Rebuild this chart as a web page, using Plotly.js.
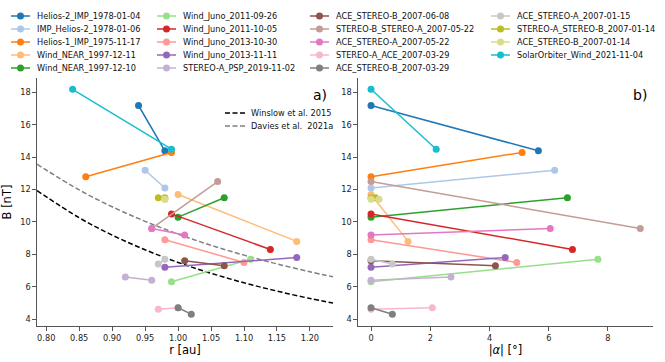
<!DOCTYPE html>
<html>
<head>
<meta charset="utf-8">
<script src="https://cdn.plot.ly/plotly-3.0.1.min.js"></script>
<style>
  body { margin: 0; background: #fff; }
  #chart { width: 665px; height: 362px; }
</style>
</head>
<body>
<div id="chart"></div>
<script>
// event names, in legend order
var labels = [
  "Helios-2_IMP_1978-01-04", "IMP_Helios-2_1978-01-06", "Helios-1_IMP_1975-11-17",
  "Wind_NEAR_1997-12-11", "Wind_NEAR_1997-12-10", "Wind_Juno_2011-09-26",
  "Wind_Juno_2011-10-05", "Wind_Juno_2013-10-30", "Wind_Juno_2013-11-11",
  "STEREO-A_PSP_2019-11-02", "ACE_STEREO-B_2007-06-08", "STEREO-B_STEREO-A_2007-05-22",
  "ACE_STEREO-A_2007-05-22", "STEREO-A_ACE_2007-03-29", "ACE_STEREO-B_2007-03-29",
  "ACE_STEREO-A_2007-01-15", "STEREO-A_STEREO-B_2007-01-14", "ACE_STEREO-B_2007-01-14",
  "SolarOrbiter_Wind_2021-11-04"
];

var colors = [
  "#1f77b4", "#aec7e8", "#ff7f0e", "#ffbb78", "#2ca02c", "#98df8a", "#d62728",
  "#ff9896", "#9467bd", "#c5b0d5", "#8c564b", "#c49c94", "#e377c2", "#f7b6d2",
  "#7f7f7f", "#c7c7c7", "#bcbd22", "#dbdb8d", "#17becf"
];

// heliocentric distance of both spacecraft [au]
var rPairs = [
  [0.94, 0.98], [0.95, 0.98], [0.86, 0.99], [1.00, 1.18], [1.00, 1.07],
  [0.99, 1.11], [0.99, 1.14], [0.98, 1.10], [0.98, 1.18], [0.96, 0.92],
  [1.01, 1.07], [1.06, 0.96], [1.01, 0.96], [0.97, 1.00], [1.00, 1.02],
  [0.98, 0.97], [0.97, 0.98], [0.98, 0.98], [0.84, 0.99]
];

// mean field of both spacecraft [nT]
var bPairs = [
  [17.2, 14.4], [13.2, 12.1], [12.8, 14.3], [11.7, 8.8], [10.3, 11.5],
  [6.3, 7.7], [10.5, 8.3], [8.9, 7.5], [7.2, 7.8], [6.4, 6.6],
  [7.6, 7.3], [12.5, 9.6], [9.2, 9.6], [4.6, 4.7], [4.7, 4.3],
  [7.7, 7.4], [11.5, 11.5], [11.4, 11.4], [18.2, 14.5]
];

// angular separation |alpha| [deg]
var alphaPairs = [
  [0, 5.65], [6.2, 0], [0, 5.1], [0, 1.25], [0, 6.63],
  [0, 7.66], [0, 6.8], [0, 4.92], [0, 4.53], [0, 2.7],
  [0, 4.2], [0, 9.09], [0, 6.05], [0, 2.07], [0, 0.72],
  [0, 0.72], [0, 0.15], [0, 0.27], [0, 2.2]
];

// model curves
var curveR = [0.786, 0.85, 0.90, 0.95, 1.00, 1.05, 1.10, 1.15, 1.20, 1.235];
var winslowB = [11.94, 10.26, 9.19, 8.28, 7.5, 6.83, 6.24, 5.73, 5.27, 4.99];
var daviesB = [13.57, 11.98, 10.94, 10.04, 9.25, 8.56, 7.95, 7.41, 6.92, 6.61];

var rTicks = [0.80, 0.85, 0.90, 0.95, 1.00, 1.05, 1.10, 1.15, 1.20];
var bTicks = [4, 6, 8, 10, 12, 14, 16, 18];
var alphaTicks = [0, 2, 4, 6, 8];

var W = 665, H = 362;
var font = "DejaVu Sans, sans-serif";
function px(x) { return x / W; }
function py(y) { return 1 - y / H; }

var data = [];
data.push({x: curveR, y: winslowB, mode: "lines", line: {color: "#000", width: 1.5, dash: "5px,2.5px", shape: "spline"}, xaxis: "x", yaxis: "y"});
data.push({x: curveR, y: daviesB, mode: "lines", line: {color: "#808080", width: 1.5, dash: "5px,2.5px", shape: "spline"}, xaxis: "x", yaxis: "y"});

for (var i = 0; i < labels.length; i++) {
  var st = {
    mode: "lines+markers",
    line: {color: colors[i], width: 1.5},
    marker: {color: colors[i], size: 7}
  };
  data.push(Object.assign({x: rPairs[i], y: bPairs[i], xaxis: "x", yaxis: "y", name: labels[i]}, st));
  data.push(Object.assign({x: alphaPairs[i], y: bPairs[i], xaxis: "x2", yaxis: "y2", name: labels[i]}, st));
}

// legend drawn by hand (matplotlib-like compact rows)
var shapes = [], annotations = [];
var colLine = [11, 157, 310, 491];
var rowY = [16, 29, 42, 55, 68];
for (var k = 0; k < labels.length; k++) {
  var c = Math.floor(k / 5), r = k % 5;
  var x0 = colLine[c], yy = rowY[r];
  shapes.push({type: "line", xref: "paper", yref: "paper", x0: px(x0), x1: px(x0 + 19), y0: py(yy), y1: py(yy),
    line: {color: colors[k], width: 1.5}});
  shapes.push({type: "circle", xref: "paper", yref: "paper", xsizemode: "pixel", ysizemode: "pixel",
    xanchor: px(x0 + 9.5), yanchor: py(yy), x0: -3.5, x1: 3.5, y0: -3.5, y1: 3.5,
    fillcolor: colors[k], line: {width: 0}});
  annotations.push({text: labels[k], xref: "paper", yref: "paper", x: px(x0 + 24), y: py(yy),
    xanchor: "left", yanchor: "middle", showarrow: false, font: {family: font, size: 8.2, color: "#111"}});
}

// inner legend for the model curves
var curveNames = ["Winslow et al. 2015", "Davies et al.&nbsp; 2021a"];
var curveColors = ["#000", "#808080"];
var curveRowY = [113, 126];
for (var j = 0; j < 2; j++) {
  shapes.push({type: "line", xref: "paper", yref: "paper", x0: px(225), x1: px(245), y0: py(curveRowY[j]), y1: py(curveRowY[j]),
    line: {color: curveColors[j], width: 1.5, dash: "5px,2.5px"}});
  annotations.push({text: curveNames[j], xref: "paper", yref: "paper", x: px(249), y: py(curveRowY[j]),
    xanchor: "left", yanchor: "middle", showarrow: false, font: {family: font, size: 8.2, color: "#111"}});
}

annotations.push({text: "a)", xref: "paper", yref: "paper", x: px(320), y: py(95), xanchor: "center", yanchor: "middle",
  showarrow: false, font: {family: font, size: 14, color: "#000"}});
annotations.push({text: "b)", xref: "paper", yref: "paper", x: px(640), y: py(95), xanchor: "center", yanchor: "middle",
  showarrow: false, font: {family: font, size: 14, color: "#000"}});

var axisBase = {
  showgrid: false, zeroline: false, showline: true, linecolor: "#555", linewidth: 1.2,
  ticks: "outside", ticklen: 3.5, tickwidth: 1, tickcolor: "#555",
  tickfont: {family: font, size: 8.2, color: "#222"}, automargin: false
};

var ydom = [py(326), py(78)];

var layout = {
  width: W, height: H,
  margin: {l: 0, r: 0, t: 0, b: 0},
  showlegend: false,
  paper_bgcolor: "#fff", plot_bgcolor: "#fff",
  font: {family: font},
  xaxis: Object.assign({}, axisBase, {domain: [px(37), px(333)], range: [0.786, 1.235], tickvals: rTicks, tickformat: ".2f",
    anchor: "y", title: {text: "r [au]", font: {family: font, size: 11.5, color: "#000"}, standoff: 4}}),
  yaxis: Object.assign({}, axisBase, {domain: ydom, range: [3.57, 18.9], tickvals: bTicks, anchor: "x",
    title: {text: "B [nT]", font: {family: font, size: 11.5, color: "#000"}, standoff: 6}}),
  xaxis2: Object.assign({}, axisBase, {domain: [px(358), px(653)], range: [-0.44, 9.52], tickvals: alphaTicks, anchor: "y2",
    title: {text: "|<i>α</i>| [°]", font: {family: font, size: 11.5, color: "#000"}, standoff: 4}}),
  yaxis2: Object.assign({}, axisBase, {domain: ydom, range: [3.57, 18.9], tickvals: bTicks, anchor: "x2"}),
  shapes: shapes,
  annotations: annotations
};

Plotly.newPlot("chart", data, layout, {staticPlot: true, displayModeBar: false});
</script>
</body>
</html>
